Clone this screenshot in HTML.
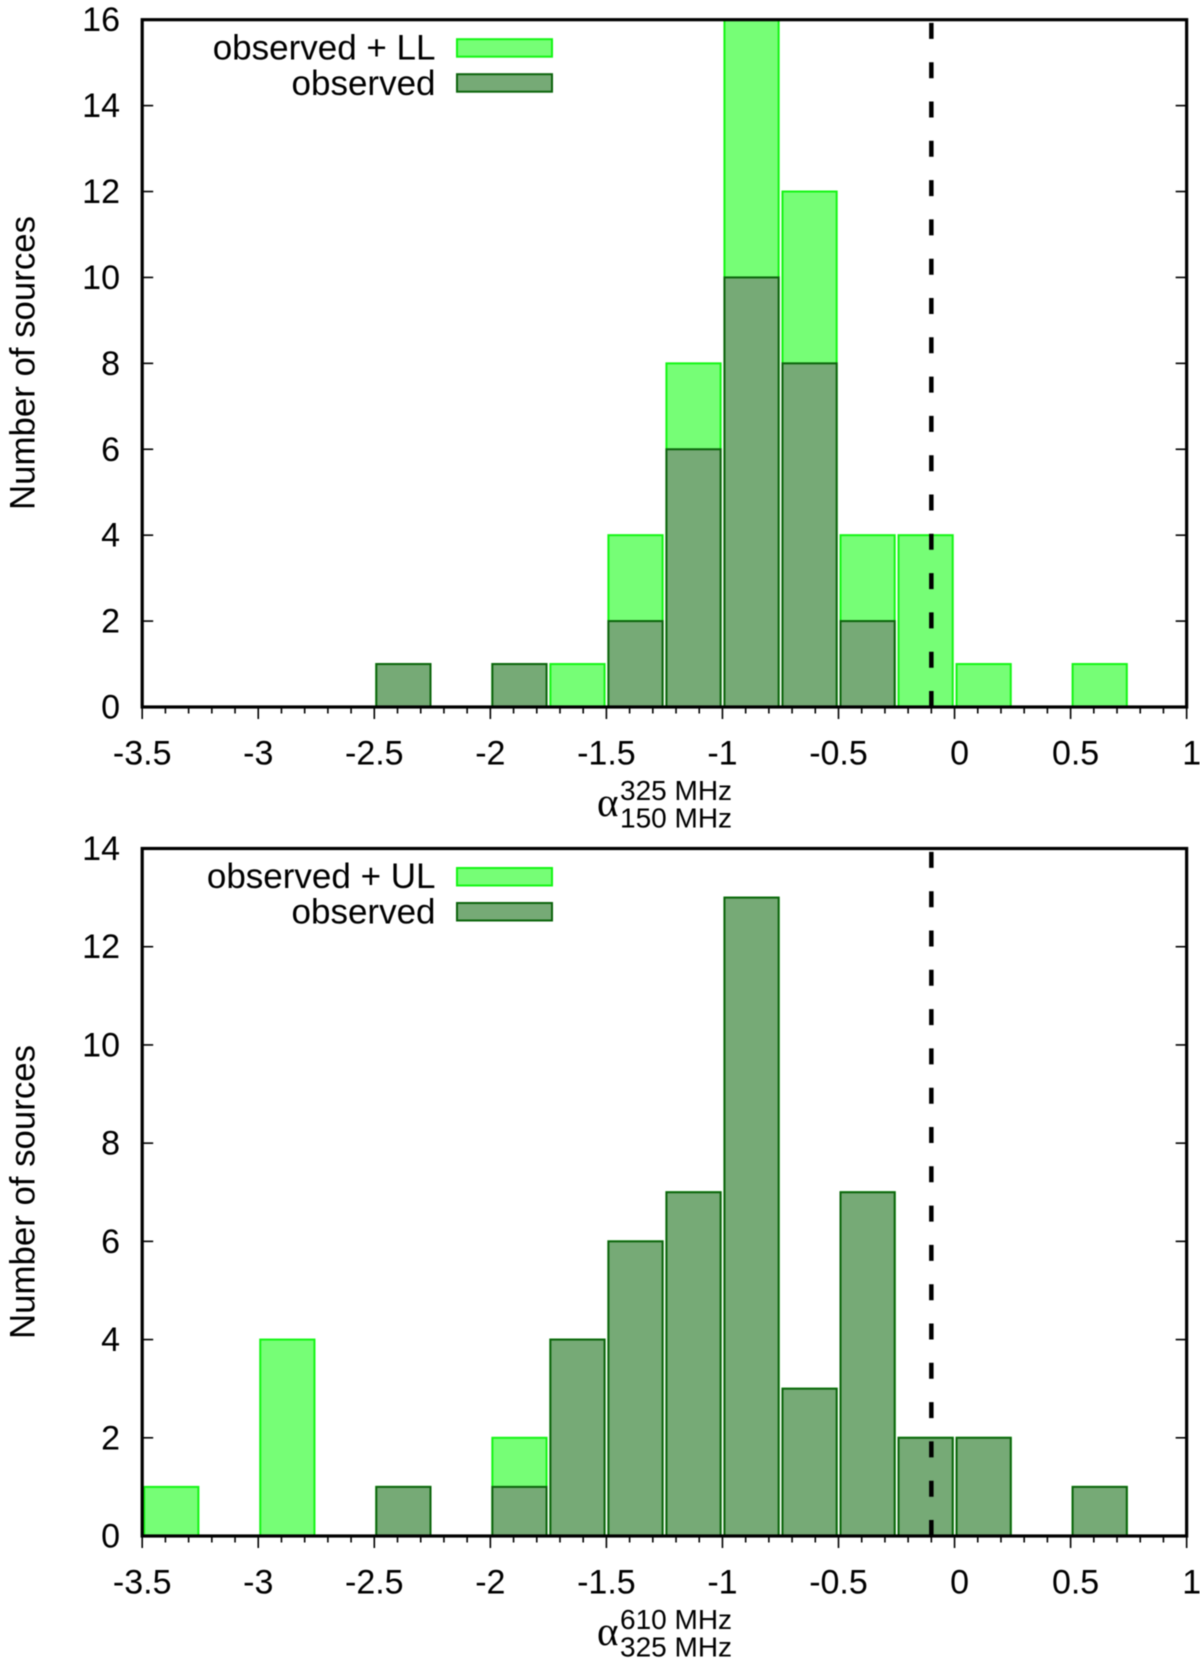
<!DOCTYPE html>
<html lang="en">
<head>
<meta charset="utf-8">
<title>Spectral index histograms</title>
<style>
html,body{margin:0;padding:0;background:#fff;width:1200px;height:1664px;overflow:hidden}
svg{display:block;filter:blur(0.45px)}
text{font-family:"Liberation Sans",sans-serif;fill:#000}
</style>
</head>
<body>
<svg id="chart" xmlns="http://www.w3.org/2000/svg" width="1200" height="1664" viewBox="0 0 1200 1664"></svg>
<script>
const binLeftEdges = [-3.5,-3.25,-3,-2.75,-2.5,-2.25,-2,-1.75,-1.5,-1.25,-1,-0.75,-0.5,-0.25,0,0.25,0.5,0.75];
const topTotalCounts = [0,0,0,0,1,0,1,1,4,8,16,12,4,4,1,0,1,0];
const topObservedCounts = [0,0,0,0,1,0,1,0,2,6,10,8,2,0,0,0,0,0];
const bottomTotalCounts = [1,0,4,0,1,0,2,4,6,7,13,3,7,2,2,0,1,0];
const bottomObservedCounts = [0,0,0,0,1,0,1,4,6,7,13,3,7,2,2,0,1,0];
const xTickValues = [-3.5,-3,-2.5,-2,-1.5,-1,-0.5,0,0.5,1];
const xTickLabels = ['-3.5','-3','-2.5','-2','-1.5','-1','-0.5','0','0.5','1'];
const xMinorTickValues = [-3.4,-3.3,-3.2,-3.1,-2.9,-2.8,-2.7,-2.6,-2.4,-2.3,-2.2,-2.1,-1.9,-1.8,-1.7,-1.6,-1.4,-1.3,-1.2,-1.1,-0.9,-0.8,-0.7,-0.6,-0.4,-0.3,-0.2,-0.1,0.1,0.2,0.3,0.4,0.6,0.7,0.8,0.9];
const topYTicks = [0,2,4,6,8,10,12,14,16];
const bottomYTicks = [0,2,4,6,8,10,12,14];
const referenceLineValue = -0.1;
const binWidth = 0.2335;

const svgNS = 'http://www.w3.org/2000/svg';
const root = document.getElementById('chart');
const xScale = v => 142.2 + (v + 3.5) * 232.1;

function mk(tag, attrs, parent) {
  const el = document.createElementNS(svgNS, tag);
  for (const k in attrs) el.setAttribute(k, attrs[k]);
  parent.appendChild(el);
  return el;
}

function drawPanel(cfg) {
  const yTop = cfg.yTop, yZero = cfg.yZero;
  const yScale = v => yZero - (v / cfg.yMax) * (yZero - yTop);
  const left = xScale(-3.5), right = xScale(1);
  const g = mk('g', {}, root);
  
  

  binLeftEdges.forEach((b, i) => {
    if (cfg.total[i] <= 0) return;
    const r = mk('rect', {x: xScale(b) + 2, y: yScale(cfg.total[i]), width: binWidth * 232.1, height: yZero - yScale(cfg.total[i]), fill: '#76fe76', stroke: '#14f514', 'stroke-width': 2}, g);
    
    
  });
  binLeftEdges.forEach((b, i) => {
    if (cfg.observed[i] <= 0) return;
    const r = mk('rect', {x: xScale(b) + 2, y: yScale(cfg.observed[i]), width: binWidth * 232.1, height: yZero - yScale(cfg.observed[i]), fill: '#76aa76', stroke: '#0b640b', 'stroke-width': 2}, g);
    
    
  });

  const ref = mk('line', {x1: xScale(referenceLineValue), x2: xScale(referenceLineValue), y1: yZero, y2: yTop, stroke: '#000', 'stroke-width': 4.5, 'stroke-dasharray': '16 23.3'}, g);
  
  

  cfg.yTicks.forEach(t => {
    const y = yScale(t);
    if (t !== 0 && t !== cfg.yMax) {
      const a = mk('line', {x1: left, x2: left + 11, y1: y, y2: y, stroke: '#000', 'stroke-width': 1.6}, g);
      
      
      const c = mk('line', {x1: right - 11, x2: right, y1: y, y2: y, stroke: '#000', 'stroke-width': 1.6}, g);
      
      
    }
    const lab = mk('text', {x: 120, y: y + 11.5, 'text-anchor': 'end', 'font-size': 34}, g);
    lab.textContent = String(t);
    
    
  });

  xTickValues.forEach((t, i) => {
    const x = xScale(t);
    const k = mk('line', {x1: x, x2: x, y1: yZero, y2: yZero + 12, stroke: '#000', 'stroke-width': 1.6}, g);
    
    
    const lab = mk('text', {x: x + (t >= 0 ? 5 : 0), y: yZero + 57.5, 'text-anchor': 'middle', 'font-size': 34}, g);
    lab.textContent = xTickLabels[i];
    
    
  });
  xMinorTickValues.forEach(t => {
    const x = xScale(t);
    const k = mk('line', {x1: x, x2: x, y1: yZero, y2: yZero + 6.5, stroke: '#000', 'stroke-width': 1.6}, g);
    
    
  });

  const frame = mk('rect', {x: left, y: yTop, width: right - left, height: yZero - yTop, fill: 'none', stroke: '#000', 'stroke-width': 3.2}, g);
  
  

  const yt = mk('text', {transform: 'translate(34.5 ' + cfg.yLabelCenter + ') rotate(-90)', 'text-anchor': 'middle', 'font-size': 34.8}, g);
  yt.textContent = 'Number of sources';
  
  

  const alpha = mk('text', {x: 597, y: yZero + 109, 'font-size': 41, style: 'font-family:"Liberation Serif",serif'}, g);
  alpha.textContent = 'α';
  
  
  const sup = mk('text', {x: 620, y: yZero + 93, 'font-size': 28}, g);
  sup.textContent = cfg.sup;
  
  
  const sub = mk('text', {x: 620, y: yZero + 120.5, 'font-size': 28}, g);
  sub.textContent = cfg.sub;
  
  

  const l1 = mk('text', {x: 435.5, y: yTop + 39.7, 'text-anchor': 'end', 'font-size': 35}, g);
  l1.textContent = cfg.legend;
  
  
  const s1 = mk('rect', {x: 457, y: yTop + 19.5, width: 95, height: 17.5, fill: '#76fe76', stroke: '#14f514', 'stroke-width': 2}, g);
  
  
  const l2 = mk('text', {x: 435.5, y: yTop + 75.2, 'text-anchor': 'end', 'font-size': 35}, g);
  l2.textContent = 'observed';
  
  
  const s2 = mk('rect', {x: 457, y: yTop + 54.5, width: 95, height: 17.5, fill: '#76aa76', stroke: '#0b640b', 'stroke-width': 2}, g);
  
  
}

drawPanel({name: 'top-histogram', yTop: 19.7, yZero: 707, yMax: 16, yTicks: topYTicks, total: topTotalCounts, observed: topObservedCounts, legend: 'observed + LL', sup: '325 MHz', sub: '150 MHz', yLabelCenter: 363});
drawPanel({name: 'bottom-histogram', yTop: 848.5, yZero: 1536, yMax: 14, yTicks: bottomYTicks, total: bottomTotalCounts, observed: bottomObservedCounts, legend: 'observed + UL', sup: '610 MHz', sub: '325 MHz', yLabelCenter: 1192});
</script>
</body>
</html>
